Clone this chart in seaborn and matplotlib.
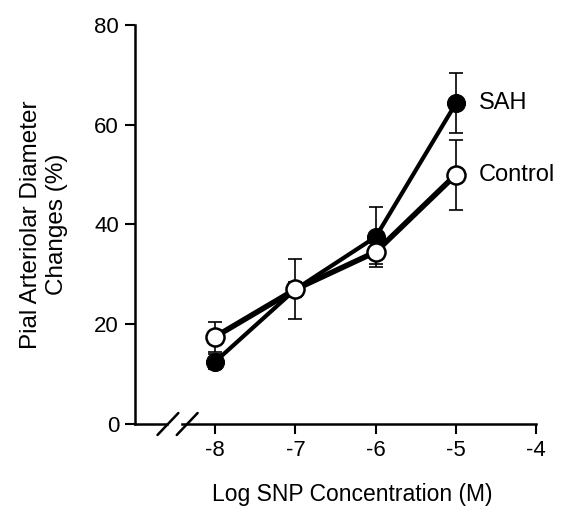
import numpy as np
import matplotlib
matplotlib.use('Agg')
import matplotlib.pyplot as plt
import pandas as pd
import seaborn as sns

# values
log_conc = [-8, -7, -6, -5]
sah_mean = [12.5, 27.0, 37.5, 64.3]
sah_err = [1.5, 6.0, 6.0, 6.0]
ctrl_mean = [17.5, 27.0, 34.5, 50.0]
ctrl_err = [3.0, 1.5, 2.5, 7.0]
x_ticks = [-8, -7, -6, -5, -4]
y_ticks = [0, 20, 40, 60, 80]

df = pd.DataFrame({
    'conc': log_conc * 2,
    'change': sah_mean + ctrl_mean,
    'group': ['SAH'] * 4 + ['Control'] * 4,
})

sns.set_style('ticks')
plt.rcParams['font.family'] = ['Liberation Sans', 'DejaVu Sans']
plt.rcParams['axes.unicode_minus'] = False
for k in ['text.color', 'axes.labelcolor', 'xtick.color', 'ytick.color',
          'xtick.labelcolor', 'ytick.labelcolor']:
    plt.rcParams[k] = 'black'

fig = plt.figure(figsize=(5.65, 5.09), dpi=100)
ax = fig.add_axes([0.239, 0.167, 0.71, 0.784])

# error bars first
for m, e in [(sah_mean, sah_err), (ctrl_mean, ctrl_err)]:
    ax.errorbar(log_conc, m, yerr=e, fmt='none', ecolor='black',
                elinewidth=1.2, capsize=5, capthick=1.2, zorder=2)

sns.lineplot(data=df[df.group == 'SAH'], x='conc', y='change', ax=ax,
             color='black', lw=3, marker='o', markersize=13,
             markerfacecolor='black', markeredgecolor='black', zorder=3)
sns.lineplot(data=df[df.group == 'Control'], x='conc', y='change', ax=ax,
             color='black', lw=4, marker='o', markersize=13,
             markerfacecolor='white', markeredgecolor='black',
             markeredgewidth=1.8, zorder=4)

ax.text(-4.72, sah_mean[-1], 'SAH', fontsize=17, va='center', ha='left')
ax.text(-4.72, ctrl_mean[-1], 'Control', fontsize=17, va='center', ha='left')

ax.set_xlim(-9, -4)
ax.set_ylim(0, 80)
ax.set_xticks(x_ticks)
ax.set_yticks(y_ticks)
ax.tick_params(labelsize=16, length=7.5, width=1.5, direction='out',
               color='black', pad=4)
for s in ['left', 'bottom']:
    ax.spines[s].set_linewidth(1.8)
    ax.spines[s].set_color('black')
sns.despine(ax=ax)

# axis break
ax.fill_between([-8.58, -8.44], -2.5, 2.5, color='white', clip_on=False, zorder=5)
for x0 in [-8.72, -8.48]:
    ax.plot([x0, x0 + 0.26], [-2.2, 2.2], color='black', lw=1.8,
            clip_on=False, zorder=6)

ax.set_xlabel('Log SNP Concentration (M)', fontsize=16.5)
ax.xaxis.set_label_coords(0.541, -0.148)
ax.set_ylabel('Pial Arteriolar Diameter\nChanges (%)', fontsize=17.5, labelpad=19,
              linespacing=1.25)
if ax.get_legend():
    ax.get_legend().remove()

fig.savefig('out.png', dpi=100)
